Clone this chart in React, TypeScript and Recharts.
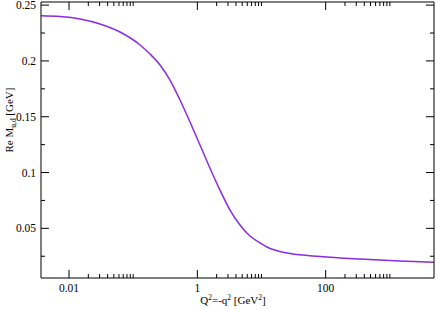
import { LineChart, Line, XAxis, YAxis } from "recharts"

// Q^2 = -q^2 in GeV^2 (log axis) and Re M_{u,d} in GeV
const q2 = [0.00366, 0.00724, 0.0148, 0.0304, 0.0623, 0.128, 0.183, 0.262, 0.375, 0.537, 0.769, 1.1, 1.57, 2.25, 3.23, 4.62, 6.62, 9.47, 13.6, 19.4, 27.8, 81.7, 343, 1439, 4880]
const reM = [0.2405, 0.2398, 0.2376, 0.2331, 0.2259, 0.2143, 0.2062, 0.1964, 0.1829, 0.165, 0.1453, 0.1247, 0.1041, 0.0843, 0.0664, 0.053, 0.0431, 0.0369, 0.0319, 0.0292, 0.0274, 0.0248, 0.0225, 0.0207, 0.0196]

const xMajor = [0.01, 1, 100]
const xMinor = [0.02, 0.03, 0.04, 0.05, 0.06, 0.07, 0.08, 0.09, 0.1, 2, 3, 4, 5, 6, 7, 8, 9, 10, 200, 300, 400, 500, 600, 700, 800, 900, 1000]
const yMajor = [0.05, 0.1, 0.15, 0.2, 0.25]
const yMinor = [0.025, 0.075, 0.125, 0.175, 0.225]

const data = q2.map((q, i) => ({ q2: q, m: reM[i] }))

const FONT = "'Liberation Serif', 'DejaVu Serif', serif"
const MAJOR_LEN = 8
const MINOR_LEN = 4

function XTick(props: any) {
  const { x, y, payload, top } = props
  const v = payload.value
  const major = xMajor.includes(v)
  const len = major ? MAJOR_LEN : MINOR_LEN
  return (
    <g>
      <line x1={x} x2={x} y1={y} y2={top ? y + len : y - len} stroke="#000" strokeWidth={1} />
      {!top && major && (
        <text x={x} y={y + 14} textAnchor="middle" fontSize={11.5} fontFamily={FONT} fill="#000">
          {String(v)}
        </text>
      )}
    </g>
  )
}

function YTick(props: any) {
  const { x, y, payload, right } = props
  const v = payload.value
  const major = yMajor.includes(v)
  const len = major ? MAJOR_LEN : MINOR_LEN
  return (
    <g>
      <line x1={x} x2={right ? x - len : x + len} y1={y} y2={y} stroke="#000" strokeWidth={1} />
      {!right && major && (
        <text x={x - 5} y={y + 4} textAnchor="end" fontSize={11.5} fontFamily={FONT} fill="#000">
          {String(v)}
        </text>
      )}
    </g>
  )
}

export default function App() {
  const xTicks = [...xMajor, ...xMinor]
  const yTicks = [...yMajor, ...yMinor]
  const xDomain = [0.00366, 4880]
  const yDomain = [0.0055, 0.2528]

  return (
    <div style={{ position: "absolute", left: 0, top: 0, width: 436, height: 309, background: "#fff" }}>
      <LineChart width={436} height={309} data={data} margin={{ top: 0, right: 0, bottom: 0, left: 0 }}>
        <XAxis
          dataKey="q2"
          type="number"
          scale="log"
          domain={xDomain}
          allowDataOverflow
          ticks={xTicks}
          interval={0}
          height={31}
          tickSize={0}
          tickMargin={0}
          stroke="#000"
          tick={<XTick />}
        />
        <XAxis
          xAxisId="top"
          orientation="top"
          dataKey="q2"
          type="number"
          scale="log"
          domain={xDomain}
          allowDataOverflow
          ticks={xTicks}
          interval={0}
          height={2}
          tickSize={0}
          tickMargin={0}
          stroke="#000"
          tick={<XTick top />}
        />
        <YAxis
          type="number"
          domain={yDomain}
          allowDataOverflow
          ticks={yTicks}
          interval={0}
          width={41}
          tickSize={0}
          tickMargin={0}
          stroke="#000"
          tick={<YTick />}
        />
        <YAxis
          yAxisId="right"
          orientation="right"
          type="number"
          domain={yDomain}
          allowDataOverflow
          ticks={yTicks}
          interval={0}
          width={2}
          tickSize={0}
          tickMargin={0}
          stroke="#000"
          tick={<YTick right />}
        />
        <Line
          type="monotone"
          dataKey="m"
          stroke="#8a2be2"
          strokeWidth={1.5}
          dot={false}
          isAnimationActive={false}
        />
      </LineChart>
      <svg width={436} height={309} style={{ position: "absolute", left: 0, top: 0, pointerEvents: "none" }}>
        <text transform="translate(13,120) rotate(-90)" textAnchor="middle" fontSize={11} fontFamily={FONT} fill="#000">
          Re M
          <tspan fontSize={7.5} dy={2.5}>u,d</tspan>
          <tspan dy={-2.5}> [GeV]</tspan>
        </text>
        <text x={233} y={304} textAnchor="middle" fontSize={11} fontFamily={FONT} fill="#000">
          Q<tspan fontSize={7.5} dy={-4.5}>2</tspan>
          <tspan dy={4.5}>=-q</tspan>
          <tspan fontSize={7.5} dy={-4.5}>2</tspan>
          <tspan dy={4.5}> [GeV</tspan>
          <tspan fontSize={7.5} dy={-4.5}>2</tspan>
          <tspan dy={4.5}>]</tspan>
        </text>
      </svg>
    </div>
  )
}
